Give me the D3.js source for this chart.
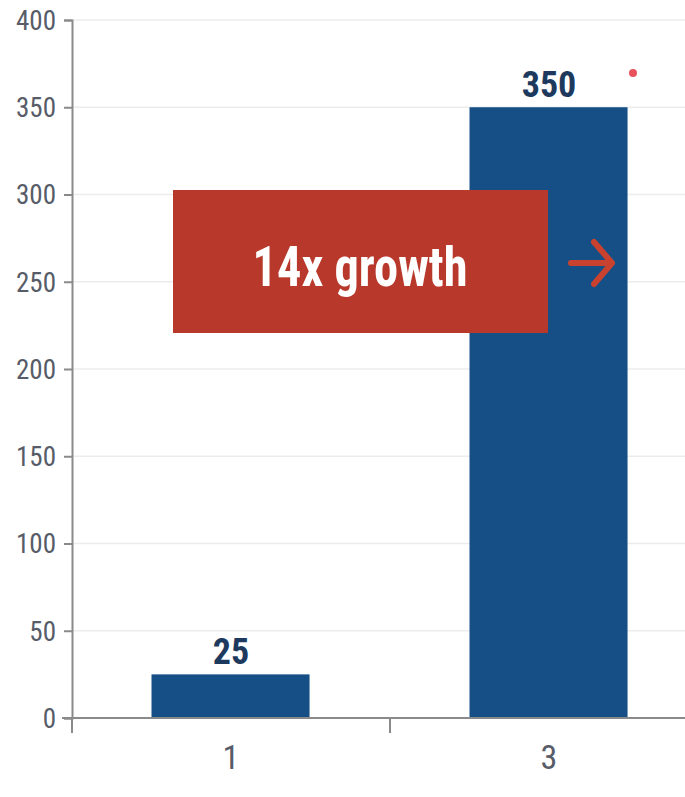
<!DOCTYPE html>
<html><head><meta charset="utf-8">
<script src="https://cdn.jsdelivr.net/npm/d3@7"></script>
<style>
html,body{margin:0;padding:0;background:#fff;}
svg{display:block;}
</style></head>
<body>
<svg id="chart" width="685" height="797"></svg>
<script>
const categories = ["1", "3"];
const values = [25, 350];
const yTicks = [0, 50, 100, 150, 200, 250, 300, 350, 400];
const calloutText = "14x growth";

const W = 685, H = 797;
const svg = d3.select("#chart");
const margin = {left: 72, top: 20, bottom: 79};
const y = d3.scaleLinear().domain([0, 400]).range([H - margin.bottom + 0.5 - 0.5 + 0, margin.top]);
y.range([718, 20]);
const x = d3.scaleBand().domain(categories).range([72, 708]).paddingInner(0).paddingOuter(0);
const step = x.step();

const narrow = "'Liberation Sans Narrow','Roboto Condensed','Liberation Sans',Arial,sans-serif";

// gridlines
svg.append("g").selectAll("line").data(yTicks.filter(d => d > 0)).join("line")
  .attr("x1", 72).attr("x2", W).attr("y1", d => y(d)).attr("y2", d => y(d))
  .attr("stroke", "#ececec").attr("stroke-width", 1.5);

// bars
svg.append("g").selectAll("rect").data(values).join("rect")
  .attr("x", (d, i) => x(categories[i]) + step * 0.25)
  .attr("width", step * 0.497)
  .attr("y", d => y(d))
  .attr("height", d => y(0) - y(d))
  .attr("fill", "#154f86");

// y axis
const yAxis = svg.append("g").attr("transform", "translate(72,0)")
  .call(d3.axisLeft(y).tickValues(yTicks).tickSize(8).tickPadding(8).tickFormat(d3.format("d")));
yAxis.select(".domain").attr("stroke", "#8a8a8a").attr("stroke-width", 2);
yAxis.selectAll(".tick line").attr("stroke", "#8a8a8a").attr("stroke-width", 2);
yAxis.selectAll(".tick text").attr("font-family", narrow).attr("font-size", 27).attr("fill", "#575c68").attr("dy", "0.35em");

// x axis line
svg.append("line").attr("x1", 62).attr("x2", W).attr("y1", y(0)).attr("y2", y(0))
  .attr("stroke", "#8a8a8a").attr("stroke-width", 2);
// boundary ticks
const bounds = categories.map(c => x(c)).concat([x(categories[categories.length - 1]) + step]);
svg.append("g").selectAll("line").data(bounds).join("line")
  .attr("x1", d => d).attr("x2", d => d).attr("y1", y(0)).attr("y2", y(0) + 15)
  .attr("stroke", "#8a8a8a").attr("stroke-width", 2);
// x labels
svg.append("g").selectAll("text").data(categories).join("text")
  .attr("x", d => x(d) + step / 2).attr("y", 769)
  .attr("text-anchor", "middle").attr("font-family", narrow).attr("font-size", 34)
  .attr("fill", "#575c68").text(d => d);

// value labels
svg.append("g").selectAll("text").data(values).join("text")
  .attr("x", (d, i) => x(categories[i]) + step / 2)
  .attr("y", d => y(d) - 10)
  .attr("text-anchor", "middle").attr("font-family", narrow).attr("font-weight", "bold")
  .attr("font-size", 36).attr("fill", "#1d3a5e").text(d => d);

// callout box
svg.append("rect").attr("x", 173).attr("y", 190).attr("width", 375).attr("height", 143)
  .attr("fill", "#b8392b");
svg.append("text").attr("x", 360).attr("y", 286).attr("text-anchor", "middle")
  .attr("font-family", narrow).attr("font-weight", "bold").attr("font-size", 56)
  .attr("fill", "#fff").attr("textLength", 215).attr("lengthAdjust", "spacingAndGlyphs")
  .text(calloutText);

// arrow
svg.append("path").attr("d", "M571,263 L611,263 M594,242 L612,263 L594,284")
  .attr("fill", "none").attr("stroke", "#c8422f").attr("stroke-width", 6)
  .attr("stroke-linecap", "round").attr("stroke-linejoin", "round");

// red dot
svg.append("circle").attr("cx", 633).attr("cy", 73).attr("r", 4).attr("fill", "#e8525a");
</script>
</body></html>
